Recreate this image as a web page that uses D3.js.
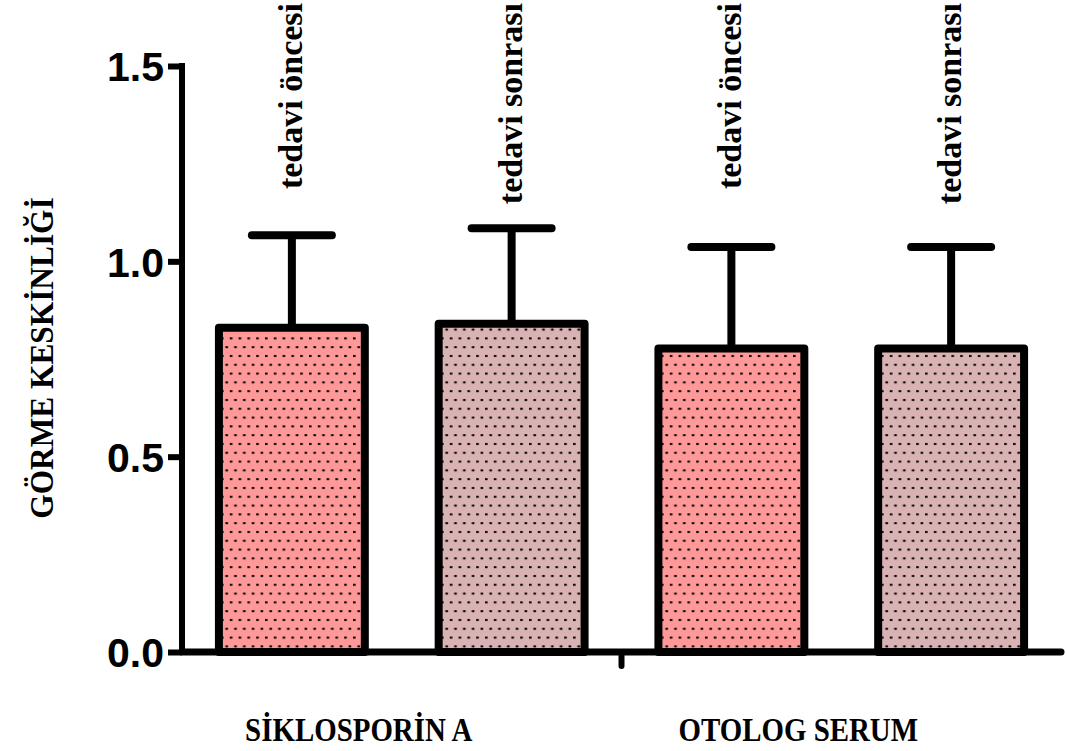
<!DOCTYPE html>
<html>
<head>
<meta charset="utf-8">
<script src="https://cdn.jsdelivr.net/npm/d3@7"></script>
<style>
  html, body { margin: 0; padding: 0; background: #fff; }
  svg { display: block; }
</style>
</head>
<body>
<svg id="chart" width="1067" height="751"></svg>
<script>
// Visual acuity before / after treatment, two treatment groups
const groups = ["SİKLOSPORİN A", "OTOLOG SERUM"];
const barKeys = ["sa_pre", "sa_post", "os_pre", "os_post"];
const barLabels = ["tedavi öncesi", "tedavi sonrası", "tedavi öncesi", "tedavi sonrası"];
const means = [0.83, 0.84, 0.777, 0.777];
const sds = [0.237, 0.245, 0.26, 0.26];
const barFills = ["#FF9999", "#D9B3B3", "#FF9999", "#D9B3B3"];
const yTicks = [0, 0.5, 1.0, 1.5];
const yTitle = "GÖRME KESKİNLİĞİ";

const svg = d3.select("#chart");
const plotLeft = 182, plotRight = 1061, plotTop = 66, plotBottom = 652;
const serif = "'Liberation Serif', 'Times New Roman', serif";

const x = d3.scaleBand().domain(barKeys).range([plotLeft, plotRight])
  .paddingInner(0.336).paddingOuter(0.168);
const y = d3.scaleLinear().domain([0, 1.5]).range([plotBottom, plotTop]);

// dotted fill patterns
const defs = svg.append("defs");
barFills.forEach((c, i) => {
  const p = defs.append("pattern")
    .attr("id", "dots" + i)
    .attr("patternUnits", "userSpaceOnUse")
    .attr("width", 8.8).attr("height", 17.6);
  p.append("rect").attr("width", 8.8).attr("height", 17.6).attr("fill", c);
  p.append("rect").attr("x", 1).attr("y", 3).attr("width", 2.6).attr("height", 2).attr("fill", "#000");
  p.append("rect").attr("x", 5.4).attr("y", 11.8).attr("width", 2.6).attr("height", 2).attr("fill", "#000");
});

const data = barKeys.map((k, i) => ({ key: k, label: barLabels[i], mean: means[i], sd: sds[i], i }));

// error bars (upper only)
const err = svg.append("g").attr("stroke", "#000").attr("stroke-width", 8).attr("stroke-linecap", "round");
data.forEach(d => {
  const cx = x(d.key) + x.bandwidth() / 2;
  err.append("line").attr("x1", cx).attr("x2", cx)
    .attr("y1", y(d.mean)).attr("y2", y(d.mean + d.sd)).attr("stroke-linecap", "butt");
  err.append("line").attr("x1", cx - 40).attr("x2", cx + 40)
    .attr("y1", y(d.mean + d.sd)).attr("y2", y(d.mean + d.sd));
});

// bars
svg.append("g").selectAll("rect").data(data).join("rect")
  .attr("x", d => x(d.key))
  .attr("width", x.bandwidth())
  .attr("y", d => y(d.mean))
  .attr("height", d => y(0) - y(d.mean))
  .attr("fill", d => `url(#dots${d.i})`)
  .attr("stroke", "#000")
  .attr("stroke-width", 8)
  .attr("stroke-linejoin", "round");

// bar labels, vertical
svg.append("g").selectAll("text").data(data).join("text")
  .attr("transform", d => `translate(${x(d.key) + x.bandwidth() / 2 + 10},3) rotate(-90)`)
  .attr("text-anchor", "end")
  .attr("font-family", serif)
  .attr("font-weight", "bold")
  .attr("font-size", 34)
  .attr("fill", "#000")
  .text(d => d.label);

// y axis
const yAxis = d3.axisLeft(y).tickValues(yTicks).tickFormat(d3.format(".1f")).tickSize(14).tickPadding(4);
const gy = svg.append("g").attr("transform", `translate(${plotLeft},0)`).call(yAxis);
gy.select(".domain").remove();
gy.selectAll(".tick line").attr("stroke", "#000").attr("stroke-width", 6);
gy.selectAll(".tick text")
  .attr("font-family", "'Liberation Sans', Arial, sans-serif")
  .attr("font-weight", "bold")
  .attr("font-size", 41)
  .attr("fill", "#000")
  .attr("dy", "0.36em");
svg.append("line").attr("x1", plotLeft).attr("x2", plotLeft)
  .attr("y1", plotTop - 3).attr("y2", plotBottom)
  .attr("stroke", "#000").attr("stroke-width", 6);

// x axis
svg.append("line").attr("x1", plotLeft).attr("x2", plotRight)
  .attr("y1", plotBottom).attr("y2", plotBottom)
  .attr("stroke", "#000").attr("stroke-width", 7).attr("stroke-linecap", "round");
const midX = x(barKeys[2]) - x.step() * x.paddingInner() / 2;
svg.append("line").attr("x1", midX).attr("x2", midX)
  .attr("y1", plotBottom).attr("y2", plotBottom + 14)
  .attr("stroke", "#000").attr("stroke-width", 6).attr("stroke-linecap", "round");

// group labels (slightly condensed bold serif)
groups.forEach((g, gi) => {
  const a = x(barKeys[gi * 2]), b = x(barKeys[gi * 2 + 1]) + x.bandwidth();
  const t = svg.append("text")
    .attr("x", (a + b) / 2 - 43)
    .attr("y", 741)
    .attr("text-anchor", "middle")
    .attr("font-family", serif)
    .attr("font-weight", "bold")
    .attr("font-size", 34)
    .attr("fill", "#000")
    .text(g);
  const w = t.node().getComputedTextLength();
  t.attr("textLength", w * 0.85).attr("lengthAdjust", "spacingAndGlyphs");
});

// y title
const yt = svg.append("text")
  .attr("transform", "translate(53,358) rotate(-90)")
  .attr("text-anchor", "middle")
  .attr("font-family", serif)
  .attr("font-weight", "bold")
  .attr("font-size", 33)
  .attr("fill", "#000")
  .text(yTitle);
yt.attr("textLength", yt.node().getComputedTextLength() * 0.95).attr("lengthAdjust", "spacingAndGlyphs");
</script>
</body>
</html>
